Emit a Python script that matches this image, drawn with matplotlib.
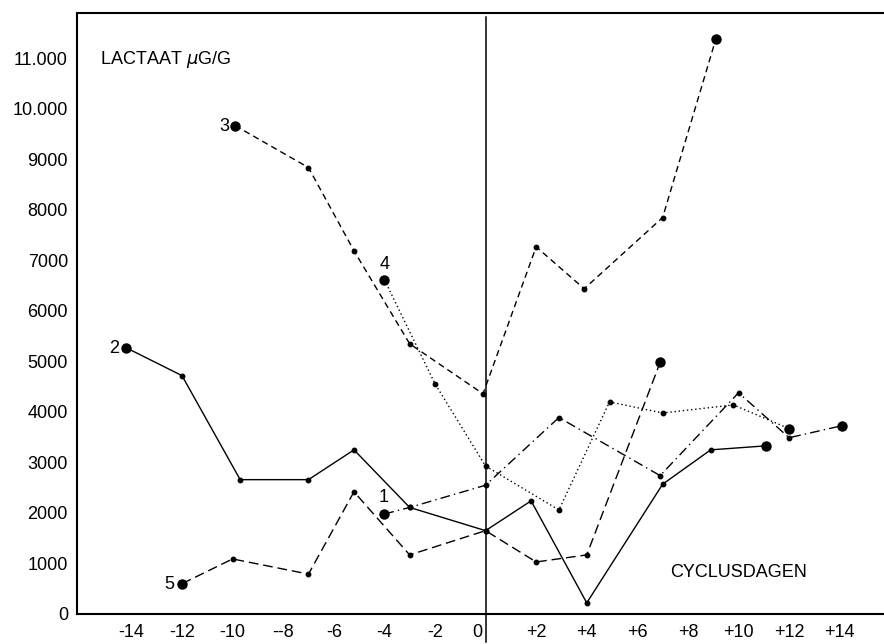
import matplotlib
matplotlib.use("Agg")
import matplotlib.pyplot as plt
from matplotlib.transforms import ScaledTranslation

plt.rcParams['font.family'] = ['Liberation Sans', 'DejaVu Sans']
plt.rcParams['mathtext.fontset'] = 'dejavusans'

# lactate per patient over the cycle days (day 0 = ovulation)
days_1 = [-4, -3, 0, 2.9, 6.9, 10, 12, 14.1]
lact_1 = [1980, 2110, 2550, 3890, 2740, 4380, 3490, 3730]

days_2 = [-14.2, -12, -9.7, -7, -5.2, -3, 0, 1.8, 4, 7, 8.9, 11.1]
lact_2 = [5270, 4720, 2660, 2660, 3250, 2110, 1650, 2240, 220, 2570, 3250, 3330]

days_3 = [-9.9, -7, -5.2, -3, -0.1, 2, 3.9, 7, 9.1]
lact_3 = [9670, 8840, 7190, 5350, 4360, 7270, 6440, 7850, 11380]

days_4 = [-4, -2, 0, 2.9, 4.9, 7, 9.8, 12]
lact_4 = [6620, 4560, 2930, 2060, 4200, 3980, 4140, 3670]

days_5 = [-12, -10, -7, -5.2, -3, 0, 2, 4, 6.9]
lact_5 = [600, 1090, 790, 2420, 1170, 1650, 1030, 1170, 4980]

xtick_pos = [-14, -12, -10, -8, -6, -4, -2, 0, 2, 4, 6, 8, 10, 12, 14]
xtick_lab = ['-14', '-12', '-10', '--8', '-6', '-4', '-2', '0',
             '+2', '+4', '+6', '+8', '+10', '+12', '+14']
ytick_pos = [0, 1000, 2000, 3000, 4000, 5000, 6000, 7000, 8000, 9000, 10000, 11000]
ytick_lab = ['0', '1000', '2000', '3000', '4000', '5000', '6000', '7000',
             '8000', '9000', '10.000', '11.000']

FS = 13

fig = plt.figure(figsize=(8.84, 6.44), dpi=100)
ax = fig.add_axes([0.0871, 0.0466, 0.9129, 0.9332])

series = [
    (days_1, lact_1, '1', (7, 3, 1, 3), (-1, 16)),
    (days_2, lact_2, '2', None, (-12, -1)),
    (days_3, lact_3, '3', (4.5, 3), (-11, -1)),
    (days_4, lact_4, '4', (1, 2), (0, 15)),
    (days_5, lact_5, '5', (7, 3.5), (-13, -1)),
]

for d, v, name, dash, off in series:
    line, = ax.plot(d, v, color='black', lw=1.0, marker='o', ms=3.2,
                    solid_joinstyle='miter')
    if dash is not None:
        line.set_dashes(dash)
    # bigger dots at first and last measurement
    ax.plot([d[0], d[-1]], [v[0], v[-1]], 'o', color='black', ms=6.5, zorder=4)
    ax.annotate(name, (d[0], v[0]), xytext=off, textcoords='offset pixels',
                ha='center', va='center', fontsize=FS)

# ovulation line
ax.axvline(0, ymin=-0.047, ymax=0.993, color='black', lw=1.1, clip_on=False)

ax.set_xlim(-16.15, 15.75)
ax.set_ylim(0, 11900)

ax.set_xticks(xtick_pos)
ax.set_xticklabels(xtick_lab, fontsize=FS)
ax.set_yticks(ytick_pos)
ax.set_yticklabels(ytick_lab, fontsize=FS)
ax.tick_params(axis='both', length=0)
ax.tick_params(axis='x', pad=7.5)
ax.tick_params(axis='y', pad=6.5)

# the "0" sits just left of the day-0 line
for lab in ax.get_xticklabels():
    if lab.get_text() == '0':
        lab.set_transform(lab.get_transform()
                          + ScaledTranslation(-8 / 100, 0, fig.dpi_scale_trans))

ax.spines['right'].set_visible(False)
for s in ['left', 'bottom', 'top']:
    ax.spines[s].set_linewidth(1.5)

ax.text(-15.25, 10970, 'LACTAAT $\\mu$G/G', fontsize=FS, va='center', ha='left')
ax.text(7.28, 830, 'CYCLUSDAGEN', fontsize=FS, va='center', ha='left')

fig.savefig('out.png', dpi=100)
